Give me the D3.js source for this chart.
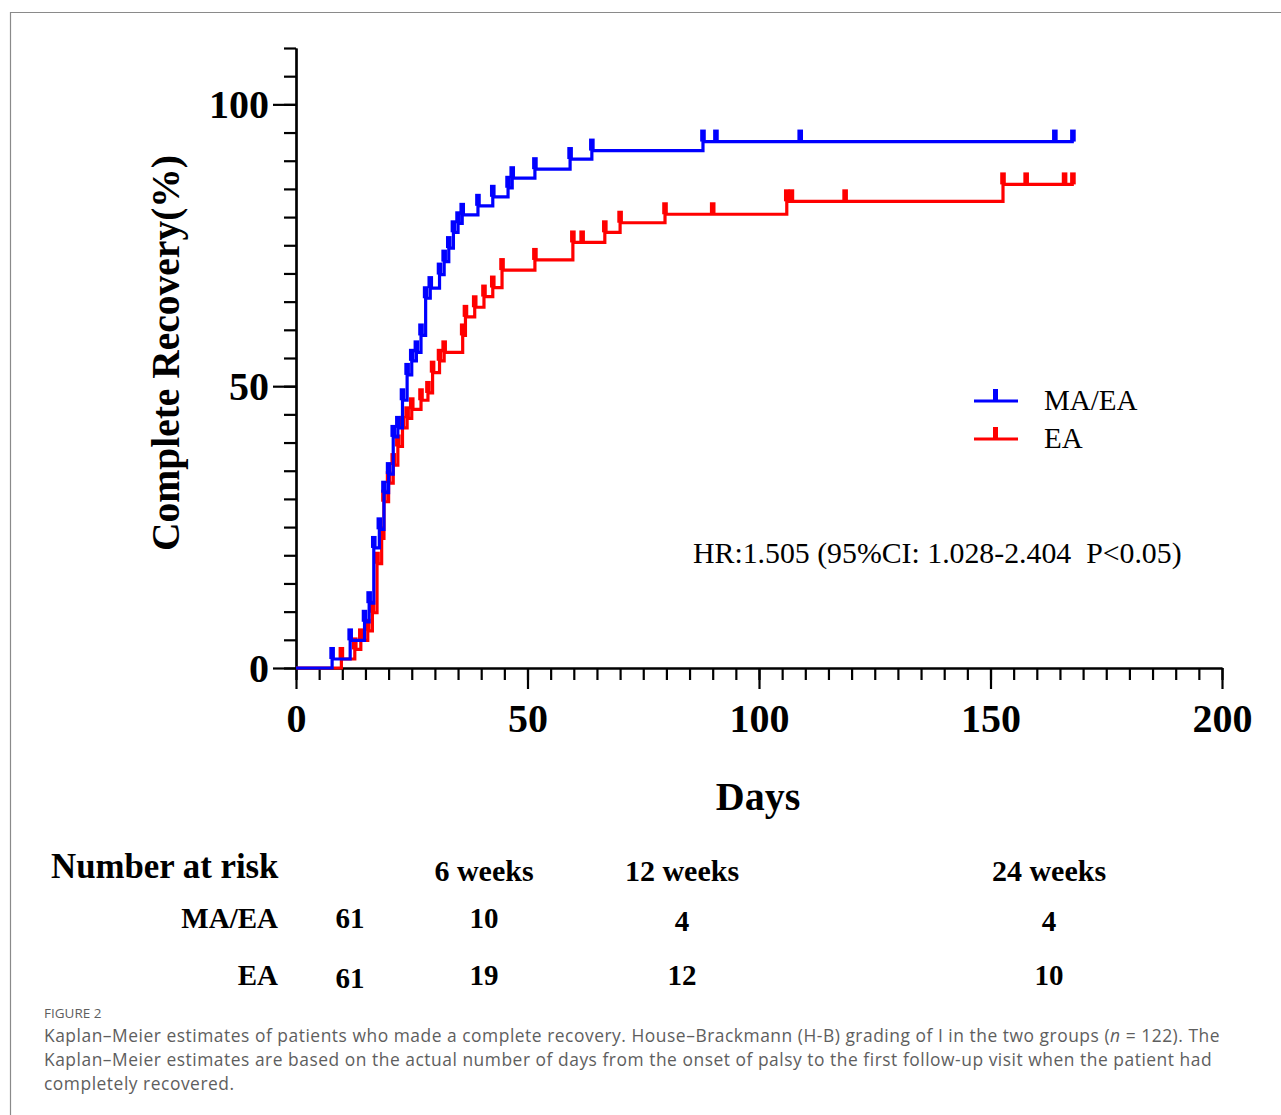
<!DOCTYPE html>
<html>
<head>
<meta charset="utf-8">
<script src="https://cdn.jsdelivr.net/npm/d3@7"></script>
<style>
body { margin: 0; background: #fff; }
svg text { font-family: "Liberation Serif", "Times New Roman", serif; }
.caption { font-family: "Open Sans", "Noto Sans", sans-serif; fill: #5e5e5e; }
</style>
</head>
<body>
<svg id="chart" width="1281" height="1115"></svg>
<script>
// Kaplan-Meier steps: day of step, cumulative % recovered after the step
var maeaDays = [7.8, 11.7, 14.8, 15.8, 16.8, 18, 19, 20, 21, 22, 23, 24, 25, 26, 27, 28, 29, 31, 32, 33, 34, 35, 35.9, 39.3, 42.5, 45.8, 46.7, 51.6, 59.2, 63.9, 87.9];
var maeaPct  = [1.6, 4.9, 8.2, 11.5, 21.3, 24.6, 31.1, 34.4, 41, 42.6, 47.5, 52, 54.5, 56, 59, 65.6, 67.4, 69.8, 72.1, 74.5, 77.3, 78.9, 80.4, 82, 83.6, 85.2, 86.9, 88.5, 90.3, 91.8, 93.4];
var maeaCensor = [90.7, 108.9, 163.9, 167.8];

var eaDays = [9.8, 12.7, 14, 15.5, 16.5, 17.5, 18.5, 19, 20, 21, 22, 23, 24, 25, 27, 28.5, 29.5, 31, 32, 36, 36.6, 38.6, 40.6, 42.5, 44.5, 51.6, 59.8, 66.7, 70, 79.7, 106, 152.7];
var eaPct  = [1.6, 3.3, 4.9, 6.6, 9.8, 18.5, 23, 29.5, 32.8, 36, 39.3, 42.6, 44.3, 45.9, 47.5, 48.8, 52.4, 54.5, 56, 59, 62.3, 64, 65.9, 67.5, 70.6, 72.4, 75.5, 77.3, 79, 80.5, 82.8, 85.8];
var eaCensor = [61.8, 90, 107, 118.6, 157.7, 166, 167.8];

var lastDay = 168;

var groups = ["MA/EA", "EA"];
var groupColors = ["#0000ff", "#ff0000"];

var xMajor = [0, 50, 100, 150, 200];
var yMajor = [0, 50, 100];

var hrText = "HR:1.505 (95%CI: 1.028-2.404  P<0.05)";

var riskHeader = ["6 weeks", "12 weeks", "24 weeks"];
var maeaRisk = [61, 10, 4, 4];
var eaRisk = [61, 19, 12, 10];

var captionTitle = "FIGURE 2";
var captionLines = [
  ["Kaplan\u2013Meier estimates of patients who made a complete recovery. House\u2013Brackmann (H-B) grading of I in the two groups (", "n", " = 122). The"],
  ["Kaplan\u2013Meier estimates are based on the actual number of days from the onset of palsy to the first follow-up visit when the patient had"],
  ["completely recovered."]
];

var svg = d3.select("#chart");

// figure frame (top and left border only)
svg.append("path")
  .attr("d", "M10.5,1115 V12.5 H1281")
  .attr("fill", "none")
  .attr("stroke", "#8a8a8a")
  .attr("stroke-width", 1.2);

var x = d3.scaleLinear().domain([0, 200]).range([296, 1222]);
var y = d3.scaleLinear().domain([0, 110]).range([668, 48]);

// axes: minor ticks and major ticks in separate groups
var xMinor = d3.range(0, 201, 5);
var yMinor = d3.range(0, 111, 5);

svg.append("g").attr("transform", "translate(0,668)")
  .call(d3.axisBottom(x).tickValues(xMinor).tickSize(12).tickFormat("").tickSizeOuter(0));
var gx = svg.append("g").attr("transform", "translate(0,668)")
  .call(d3.axisBottom(x).tickValues(xMajor).tickSize(21).tickFormat(d3.format("d")).tickSizeOuter(0).tickPadding(9));

svg.append("g").attr("transform", "translate(296,0)")
  .call(d3.axisLeft(y).tickValues(yMinor).tickSize(12).tickFormat("").tickSizeOuter(0));
var gy = svg.append("g").attr("transform", "translate(296,0)")
  .call(d3.axisLeft(y).tickValues(yMajor).tickSize(23).tickFormat(d3.format("d")).tickSizeOuter(0).tickPadding(4));

svg.selectAll(".domain").attr("stroke", "#000").attr("stroke-width", 2.2);
svg.selectAll(".tick line").attr("stroke", "#000").attr("stroke-width", 2.2);
svg.selectAll(".tick text")
  .attr("fill", "#000")
  .style("font-family", "'Liberation Serif', serif")
  .style("font-weight", "bold")
  .style("font-size", "40px");
gx.selectAll(".tick text").attr("dy", "0.85em");
gy.selectAll(".tick text").attr("dy", "0.34em");

// axis titles
svg.append("text")
  .attr("transform", "translate(179,353) rotate(-90)")
  .attr("text-anchor", "middle")
  .style("font-weight", "bold")
  .style("font-size", "39.5px")
  .text("Complete Recovery(%)");

svg.append("text")
  .attr("x", 758).attr("y", 810)
  .attr("text-anchor", "middle")
  .style("font-weight", "bold")
  .style("font-size", "40px")
  .text("Days");

// curves
var series = [
  { days: maeaDays, pct: maeaPct, censor: maeaCensor, color: groupColors[0] },
  { days: eaDays, pct: eaPct, censor: eaCensor, color: groupColors[1] }
];

var line = d3.line()
  .x(function(d) { return x(d[0]); })
  .y(function(d) { return y(d[1]); })
  .curve(d3.curveStepAfter);

var levelAt = function(s, t) {
  var v = 0;
  for (var i = 0; i < s.days.length; i++) {
    if (s.days[i] <= t) v = s.pct[i];
  }
  return v;
};

series.slice().reverse().forEach(function(s) {
  var pts = [[0, 0]];
  s.days.forEach(function(d, i) { pts.push([d, s.pct[i]]); });
  pts.push([lastDay, s.pct[s.pct.length - 1]]);

  svg.append("path")
    .datum(pts)
    .attr("d", line)
    .attr("fill", "none")
    .attr("stroke", s.color)
    .attr("stroke-width", 3.2);

  var marks = s.days.concat(s.censor);
  svg.append("g").selectAll("rect")
    .data(marks)
    .enter().append("rect")
    .attr("x", function(d) { return x(d) - 2.8; })
    .attr("y", function(d) { return y(levelAt(s, d)) - 12; })
    .attr("width", 5.6)
    .attr("height", 12)
    .attr("fill", s.color);
});

// legend
var legend = svg.append("g");
groups.forEach(function(g, i) {
  var ly = 401 + i * 38;
  legend.append("line")
    .attr("x1", 974).attr("x2", 1018)
    .attr("y1", ly).attr("y2", ly)
    .attr("stroke", groupColors[i]).attr("stroke-width", 3.2);
  legend.append("rect")
    .attr("x", 993).attr("y", ly - 12)
    .attr("width", 5).attr("height", 12)
    .attr("fill", groupColors[i]);
  legend.append("text")
    .attr("x", 1044).attr("y", ly + 9)
    .style("font-size", "29px")
    .text(g);
});

svg.append("text")
  .attr("x", 693).attr("y", 563)
  .attr("xml:space", "preserve")
  .style("white-space", "pre")
  .style("font-size", "29.8px")
  .text(hrText);

// number at risk table
var table = svg.append("g").style("font-weight", "bold");
table.append("text")
  .attr("x", 51).attr("y", 878)
  .style("font-size", "34.8px")
  .text("Number at risk");

var colX = [350, 484, 682, 1049];
var rowY = [928, 985];
var cellDy = [[0, 0, 3, 3], [3, 0, 0, 0]];

riskHeader.forEach(function(h, i) {
  table.append("text")
    .attr("x", colX[i + 1]).attr("y", 881)
    .attr("text-anchor", "middle")
    .style("font-size", "30px")
    .text(h);
});

[maeaRisk, eaRisk].forEach(function(vals, r) {
  table.append("text")
    .attr("x", 278).attr("y", rowY[r])
    .attr("text-anchor", "end")
    .style("font-size", "29px")
    .text(groups[r]);
  vals.forEach(function(v, i) {
    table.append("text")
      .attr("x", colX[i]).attr("y", rowY[r] + cellDy[r][i])
      .attr("text-anchor", "middle")
      .style("font-size", "29px")
      .text(v);
  });
});

// caption
svg.append("text")
  .attr("class", "caption")
  .attr("x", 44).attr("y", 1018)
  .style("font-size", "13.5px")
  .text(captionTitle);

captionLines.forEach(function(parts, i) {
  var t = svg.append("text")
    .attr("class", "caption")
    .attr("x", 44).attr("y", 1042 + i * 24)
    .style("font-size", "17.4px")
    .style("letter-spacing", "0.53px");
  parts.forEach(function(p, j) {
    t.append("tspan")
      .style("font-style", (parts.length > 1 && j === 1) ? "italic" : "normal")
      .text(p);
  });
});
</script>
</body>
</html>
